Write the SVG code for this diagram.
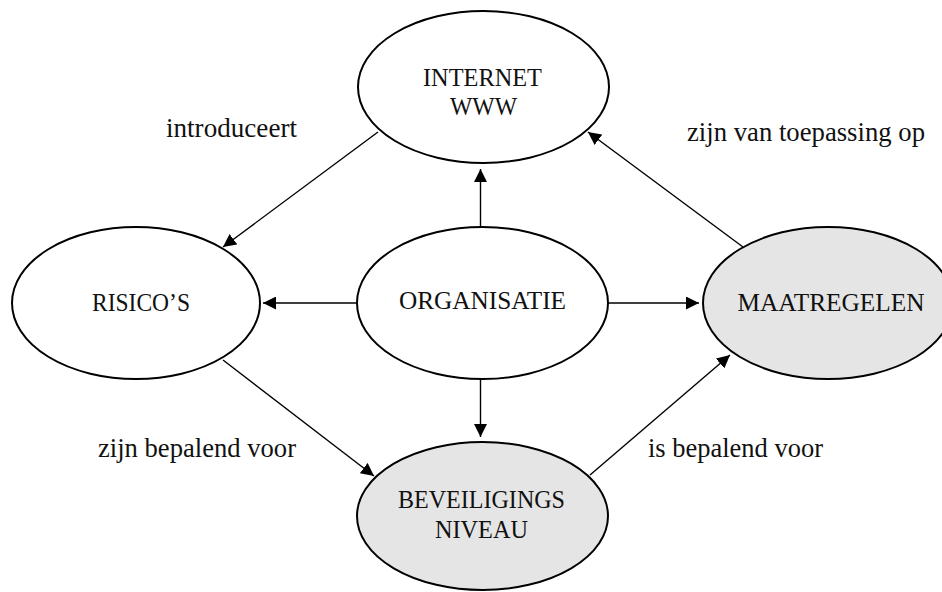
<svg xmlns="http://www.w3.org/2000/svg" width="942" height="592" viewBox="0 0 942 592">
  <defs>
    <marker id="arrow" markerWidth="13" markerHeight="13" refX="13" refY="6.5" orient="auto" markerUnits="userSpaceOnUse">
      <path d="M0,0 L13,6.5 L0,13 z" fill="#000"/>
    </marker>
    <style>
      .node { fill: #ffffff; stroke: #000; stroke-width: 2; }
      .node.shaded { fill: #e5e5e5; }
      .name { font-family: "Liberation Serif", "Times New Roman", serif; font-size: 25px; fill: #111; text-anchor: middle; }
      .edge { stroke: #000; stroke-width: 1.4; fill: none; marker-end: url(#arrow); }
    </style>
  </defs>
  <rect width="942" height="592" fill="#ffffff"/>

  <!-- connectors -->
  <g id="connectors">
    <line class="edge" x1="378" y1="132" x2="223" y2="247"/>
    <line class="edge" x1="743" y1="247" x2="588" y2="132"/>
    <line class="edge" x1="480.5" y1="227" x2="480.5" y2="169"/>
    <line class="edge" x1="357" y1="303" x2="263" y2="303"/>
    <line class="edge" x1="608" y1="303" x2="699" y2="303"/>
    <line class="edge" x1="480.5" y1="379" x2="480.5" y2="437"/>
    <line class="edge" x1="223" y1="360" x2="374" y2="476"/>
    <line class="edge" x1="590" y1="475" x2="730" y2="355"/>
  </g>

  <!-- edge labels -->
  <g id="labels" font-family="'Liberation Serif', 'Times New Roman', serif" font-size="27" fill="#111">
    <text x="166" y="137" textLength="131" lengthAdjust="spacingAndGlyphs">introduceert</text>
    <text x="687" y="141" textLength="238" lengthAdjust="spacingAndGlyphs">zijn van toepassing op</text>
    <text x="98" y="457" textLength="198" lengthAdjust="spacingAndGlyphs">zijn bepalend voor</text>
    <text x="648" y="457" textLength="175" lengthAdjust="spacingAndGlyphs">is bepalend voor</text>
  </g>

  <g id="internet">
    <ellipse class="node" cx="483.5" cy="87" rx="125.5" ry="76"/>
    <text class="name" x="482.5" y="86" textLength="119" lengthAdjust="spacingAndGlyphs">INTERNET</text>
    <text class="name" x="483.5" y="115" textLength="67" lengthAdjust="spacingAndGlyphs">WWW</text>
  </g>

  <g id="risicos">
    <ellipse class="node" cx="136" cy="303" rx="124" ry="76"/>
    <text class="name" x="141" y="311" textLength="98" lengthAdjust="spacingAndGlyphs">RISICO’S</text>
  </g>

  <g id="organisatie">
    <ellipse class="node" cx="482.5" cy="303" rx="125.5" ry="76"/>
    <text class="name" x="482.5" y="309" textLength="167" lengthAdjust="spacingAndGlyphs">ORGANISATIE</text>
  </g>

  <g id="maatregelen">
    <ellipse class="node shaded" cx="828" cy="303" rx="125" ry="76"/>
    <text class="name" x="831" y="311" textLength="187" lengthAdjust="spacingAndGlyphs">MAATREGELEN</text>
  </g>

  <g id="beveiligingsniveau">
    <ellipse class="node shaded" cx="482.5" cy="516" rx="125.5" ry="74"/>
    <text class="name" x="481.5" y="508" textLength="167" lengthAdjust="spacingAndGlyphs">BEVEILIGINGS</text>
    <text class="name" x="481.5" y="538" textLength="93" lengthAdjust="spacingAndGlyphs">NIVEAU</text>
  </g>
</svg>
